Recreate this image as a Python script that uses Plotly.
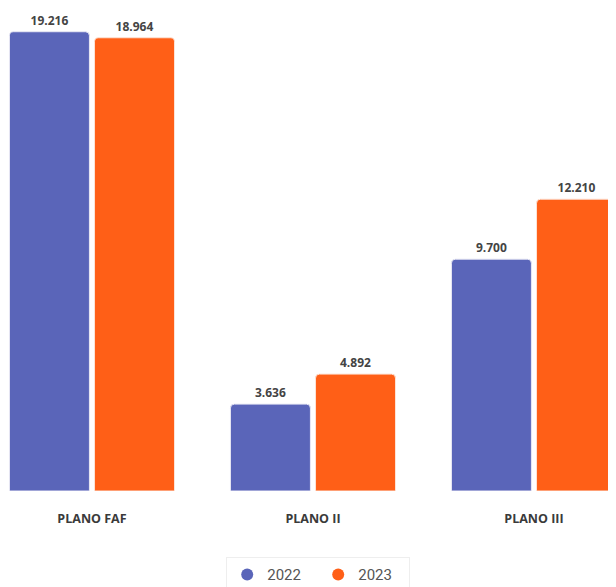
import plotly.graph_objects as go

# Data (values in units, shown with "." thousands separator)
planos = ['PLANO FAF', 'PLANO II', 'PLANO III']
valores_2022 = [19216, 3636, 9700]
valores_2023 = [18964, 4892, 12210]

cor_2022 = '#5A65B9'
cor_2023 = '#FF5F17'

fig = go.Figure()

fig.add_trace(go.Bar(x=planos, y=valores_2022, name='2022', marker_color=cor_2022,
                     marker_line=dict(color='#e8e8f4', width=1),
                     texttemplate='%{y:,}', textposition='outside',
                     textfont=dict(size=12, color='#444', family='Open Sans', weight='bold'),
                     cliponaxis=False, showlegend=False))
fig.add_trace(go.Bar(x=planos, y=valores_2023, name='2023', marker_color=cor_2023,
                     marker_line=dict(color='#fde3d6', width=1),
                     texttemplate='%{y:,}', textposition='outside',
                     textfont=dict(size=12, color='#444', family='Open Sans', weight='bold'),
                     cliponaxis=False, showlegend=False))

# circle markers for the legend, like the original
fig.add_trace(go.Scatter(x=[None], y=[None], mode='markers', name='2022',
                         marker=dict(color=cor_2022, size=15, symbol='circle')))
fig.add_trace(go.Scatter(x=[None], y=[None], mode='markers', name='2023',
                         marker=dict(color=cor_2023, size=15, symbol='circle')))

# page body has an 8px margin, so the figure is shifted by 8px
fig.update_layout(width=600, height=579,
                  margin=dict(l=0, r=0, t=0, b=96, autoexpand=False),
                  barmode='group', bargap=0.23, bargroupgap=0.06,
                  barcornerradius=4,
                  separators=',.',
                  plot_bgcolor='white', paper_bgcolor='white',
                  font=dict(family='Open Sans', color='#444'),
                  xaxis=dict(range=[-0.380, 2.335], showgrid=False, zeroline=False,
                             showline=False, ticks='', ticklabelstandoff=18,
                             tickfont=dict(size=12.5, color='#3a3a3a', family='Open Sans', weight='bold')),
                  yaxis=dict(range=[0, 20209], visible=False),
                  legend=dict(orientation='h', x=0.517, xanchor='center', y=-0.137, yanchor='top',
                              font=dict(size=15, color='#555', family='Roboto'),
                              bordercolor='#eeeeee', borderwidth=1, bgcolor='white',
                              entrywidth=46, itemsizing='constant'))

fig.write_html('out.html')
